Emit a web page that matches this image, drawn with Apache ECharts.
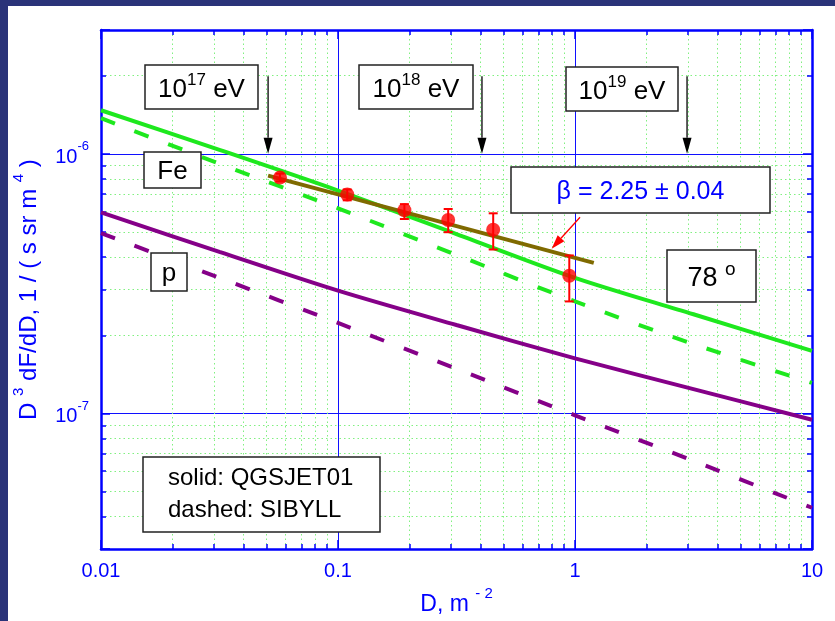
<!DOCTYPE html>
<html><head><meta charset="utf-8">
<script src="https://cdn.jsdelivr.net/npm/echarts@6/dist/echarts.min.js"></script>
<style>html,body{margin:0;padding:0;background:#fff}#c{width:835px;height:621px}</style>
</head><body><div id="c"></div>
<script>
// ---- data ----
const xTicks = [0.01, 0.1, 1, 10];
const xTickLabels = ['0.01', '0.1', '1', '10'];
const yRange = [3e-8, 3e-6];
const xRange = [0.01, 10];

const curveD   = [0.01, 0.0316, 0.1, 0.316, 1, 3.16, 10];
const feQGS    = [1.472e-6, 1.036e-6, 7.22e-7, 4.91e-7, 3.33e-7, 2.41e-7, 1.74e-7];
const feSIB    = [1.372e-6, 9.16e-7, 6.17e-7, 4.08e-7, 2.70e-7, 1.85e-7, 1.31e-7];
const pQGS     = [5.95e-7, 4.19e-7, 2.97e-7, 2.19e-7, 1.63e-7, 1.24e-7, 9.45e-8];
const pSIB     = [4.95e-7, 3.33e-7, 2.23e-7, 1.485e-7, 9.83e-8, 6.56e-8, 4.33e-8];

const fitD     = [0.0507, 1.20];
const fitVal   = [8.24e-7, 3.80e-7];

const ptD      = [0.0569, 0.1094, 0.1906, 0.2917, 0.4517, 0.946];
const ptVal    = [8.10e-7, 6.97e-7, 6.06e-7, 5.56e-7, 5.10e-7, 3.39e-7];
const ptLow    = [7.83e-7, 6.62e-7, 5.61e-7, 4.99e-7, 4.28e-7, 2.70e-7];
const ptHigh   = [8.39e-7, 7.29e-7, 6.40e-7, 6.13e-7, 5.90e-7, 4.06e-7];

const energyD     = [0.0507, 0.405, 2.97];
const energyLabel = ['17', '18', '19'];
const arrowTop    = 1.99e-6;
const arrowBottom = 1.0e-6;

const betaArrow = [1.05, 5.70e-7, 0.797, 4.31e-7];

// ---- styles ----
const BLUE = '#0000ff';
const GREEN = '#1ee81e';
const PURPLE = '#850088';
const OLIVE = '#7f6a00';
const RED = '#ff0000';
const NAVY = '#2a3379';
const FONT = 'Liberation Sans, Arial, sans-serif';
const DASH = [15, 21];

const zip = (a, b) => a.map((v, i) => [v, b[i]]);

function box(x, y, w, h, text, rich, align) {
  return {
    type: 'group', x: x, y: y, z: 100,
    children: [
      { type: 'rect', shape: { x: 0, y: 0, width: w, height: h },
        style: { fill: '#fff', stroke: '#222', lineWidth: 1.5 }, z: 100 },
      { type: 'text', x: align === 'left' ? 25 : w / 2, y: h / 2, z: 101,
        style: { text: text, rich: rich, align: align || 'center', verticalAlign: 'middle',
                 fontFamily: FONT, fill: '#000' } }
    ]
  };
}
function supRich(base, sup, color, lh) {
  return {
    b: { fontSize: base, fontFamily: FONT, fill: color, lineHeight: lh, verticalAlign: 'bottom' },
    s: { fontSize: sup, fontFamily: FONT, fill: color, lineHeight: Math.round(sup * 1.1), verticalAlign: 'top' }
  };
}

const axisCommon = {
  type: 'log', logBase: 10,
  axisLine: { show: true, onZero: false, lineStyle: { color: BLUE, width: 2.5 } },
  axisTick: { show: true, inside: true, length: 9, lineStyle: { color: BLUE, width: 1.5 } },
  minorTick: { show: true, splitNumber: 9, length: 5, lineStyle: { color: BLUE, width: 1.5 } }
};

const chart = echarts.init(document.getElementById('c'), null, { renderer: 'canvas' });
chart.setOption({
  backgroundColor: '#ffffff',
  animation: false,
  grid: { left: 101, right: 23, top: 30, bottom: 67, show: false },
  xAxis: [
    Object.assign({}, axisCommon, {
      min: xRange[0], max: xRange[1], position: 'bottom',
      axisLabel: { color: BLUE, fontSize: 20, fontFamily: FONT, margin: 12,
        formatter: v => { const i = xTicks.findIndex(t => Math.abs(Math.log10(t) - Math.log10(v)) < 1e-6); return i >= 0 ? xTickLabels[i] : ''; } },
      splitLine: { show: true, lineStyle: { color: '#1010ff', width: 1 } },
      minorSplitLine: { show: true, lineStyle: { color: '#80f080', width: 1, type: [1.5, 3] } },
      name: '{b|D, m }{s|- 2}', nameLocation: 'middle', nameGap: 33,
      nameTextStyle: { rich: {
        b: { fontSize: 23, fontFamily: FONT, color: BLUE, lineHeight: 30, verticalAlign: 'bottom' },
        s: { fontSize: 15, fontFamily: FONT, color: BLUE, lineHeight: 16, verticalAlign: 'top' } } }
    }),
    Object.assign({}, axisCommon, {
      min: xRange[0], max: xRange[1], position: 'top',
      axisLabel: { show: false }, splitLine: { show: false }, minorSplitLine: { show: false }
    })
  ],
  yAxis: [
    Object.assign({}, axisCommon, {
      min: yRange[0], max: yRange[1], position: 'left',
      axisLabel: { margin: 12, showMinLabel: false, showMaxLabel: false,
        formatter: v => { const l = Math.log10(v); const r = Math.round(l); if (Math.abs(l - r) > 1e-6) return ''; return '{b|10}{s|' + r + '}'; },
        rich: {
          b: { fontSize: 20, fontFamily: FONT, color: BLUE, lineHeight: 27, verticalAlign: 'bottom' },
          s: { fontSize: 13, fontFamily: FONT, color: BLUE, lineHeight: 14, verticalAlign: 'top' } } },
      splitLine: { show: true, lineStyle: { color: '#1010ff', width: 1 } },
      minorSplitLine: { show: true, lineStyle: { color: '#80f080', width: 1, type: [1.5, 3] } },
      name: '{b|D }{s|3}{b| dF/dD, 1 / ( s sr m }{s|4}{b| )}', nameLocation: 'middle', nameGap: 60, nameRotate: 90,
      nameTextStyle: { rich: {
        b: { fontSize: 24, fontFamily: FONT, color: BLUE, lineHeight: 30, verticalAlign: 'bottom' },
        s: { fontSize: 15, fontFamily: FONT, color: BLUE, lineHeight: 16, verticalAlign: 'top' } } }
    }),
    Object.assign({}, axisCommon, {
      min: yRange[0], max: yRange[1], position: 'right',
      axisLabel: { show: false }, splitLine: { show: false }, minorSplitLine: { show: false }
    })
  ],
  series: [
    { type: 'line', name: 'Fe QGSJET01', data: zip(curveD, feQGS), showSymbol: false, smooth: 0.3,
      lineStyle: { color: GREEN, width: 4 }, z: 3 },
    { type: 'line', name: 'Fe SIBYLL', data: zip(curveD, feSIB), showSymbol: false, smooth: 0.3,
      lineStyle: { color: GREEN, width: 4, type: DASH }, z: 3 },
    { type: 'line', name: 'p QGSJET01', data: zip(curveD, pQGS), showSymbol: false, smooth: 0.3,
      lineStyle: { color: PURPLE, width: 4 }, z: 3 },
    { type: 'line', name: 'p SIBYLL', data: zip(curveD, pSIB), showSymbol: false, smooth: 0.3,
      lineStyle: { color: PURPLE, width: 4, type: DASH }, z: 3 },
    { type: 'line', name: 'fit', data: zip(fitD, fitVal), showSymbol: false,
      lineStyle: { color: OLIVE, width: 4 }, z: 4 },
    { type: 'custom', name: 'errors', z: 5,
      data: ptD.map((d, i) => [d, ptLow[i], ptHigh[i]]),
      renderItem: (params, api) => {
        const lo = api.coord([api.value(0), api.value(1)]);
        const hi = api.coord([api.value(0), api.value(2)]);
        const c = 4.5;
        const st = { stroke: RED, lineWidth: 2 };
        return { type: 'group', children: [
          { type: 'line', shape: { x1: lo[0], y1: lo[1], x2: hi[0], y2: hi[1] }, style: st },
          { type: 'line', shape: { x1: lo[0] - c, y1: lo[1], x2: lo[0] + c, y2: lo[1] }, style: st },
          { type: 'line', shape: { x1: hi[0] - c, y1: hi[1], x2: hi[0] + c, y2: hi[1] }, style: st }
        ] };
      } },
    { type: 'scatter', name: 'data', data: zip(ptD, ptVal), symbol: 'circle', symbolSize: 14,
      itemStyle: { color: RED }, z: 6 },
    { type: 'custom', name: 'arrows', z: 7,
      data: energyD.map(d => [d, arrowTop, d, arrowBottom, 0]).concat([betaArrow.concat([1])]),
      renderItem: (params, api) => {
        const p1 = api.coord([api.value(0), api.value(1)]);
        const p2 = api.coord([api.value(2), api.value(3)]);
        const isRed = api.value(4) === 1;
        const col = isRed ? RED : '#000';
        const hl = isRed ? 14 : 16, hw = 4.5;
        const dx = p2[0] - p1[0], dy = p2[1] - p1[1];
        const L = Math.sqrt(dx * dx + dy * dy), ux = dx / L, uy = dy / L;
        const bx = p2[0] - ux * hl, by = p2[1] - uy * hl;
        return { type: 'group', children: [
          { type: 'line', shape: { x1: p1[0], y1: p1[1], x2: bx, y2: by }, style: { stroke: col, lineWidth: 1.3 } },
          { type: 'polygon', shape: { points: [[p2[0], p2[1]], [bx - uy * hw, by + ux * hw], [bx + uy * hw, by - ux * hw]] },
            style: { fill: col } }
        ] };
      } }
  ],
  graphic: [
    { type: 'rect', shape: { x: 0, y: 0, width: 8, height: 621 }, style: { fill: NAVY }, z: 200 },
    { type: 'rect', shape: { x: 0, y: 0, width: 835, height: 6 }, style: { fill: NAVY }, z: 200 },
    box(145, 65, 113, 44, '{b|10}{s|' + energyLabel[0] + '}{b| eV}', supRich(26, 17, '#000', 31)),
    box(359, 65, 114, 44, '{b|10}{s|' + energyLabel[1] + '}{b| eV}', supRich(26, 17, '#000', 31)),
    box(566, 67, 112, 44, '{b|10}{s|' + energyLabel[2] + '}{b| eV}', supRich(26, 17, '#000', 31)),
    box(144, 152, 57, 36, '{b|Fe}', supRich(26, 17, '#000', 30)),
    box(151, 253, 36, 38, '{b|p}', supRich(26, 17, '#000', 30)),
    box(667, 250, 89, 52, '{b|78 }{s|o}', supRich(27, 19, '#000', 32)),
    box(511, 167, 259, 46, '{b|β = 2.25 ± 0.04}', supRich(25, 15, BLUE, 30)),
    box(143, 457, 237, 75, '{b|solid: QGSJET01}\n{b|dashed: SIBYLL}',
        { b: { fontSize: 24, fontFamily: FONT, fill: '#000', lineHeight: 32 } }, 'left')
  ]
});
</script>
</body></html>
